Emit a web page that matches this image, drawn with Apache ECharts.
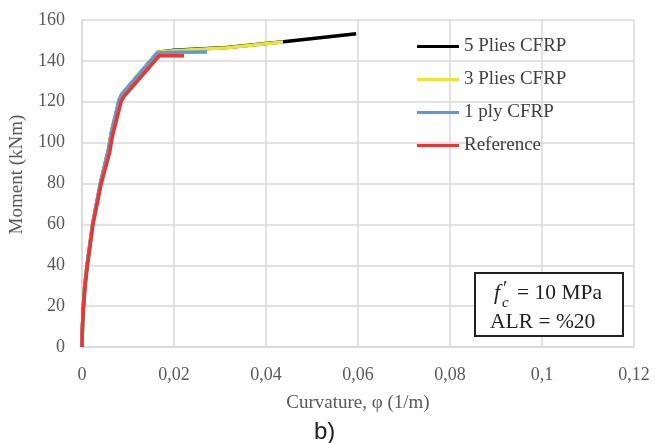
<!DOCTYPE html>
<html>
<head>
<meta charset="UTF-8">
<title>Moment - Curvature</title>
<script src="https://cdn.jsdelivr.net/npm/echarts@6/dist/echarts.min.js"></script>
<style>
 html,body{margin:0;padding:0;background:#fff;}
 #main{width:655px;height:443px;}
</style>
</head>
<body>
<div id="main"></div>
<script type="text/javascript">
// series names (legend order)
var seriesNames = ['5 Plies CFRP', '3 Plies CFRP', '1 ply CFRP', 'Reference'];
// curvature (1/m), moment (kNm)
var plies5 = [[0,0],[0.0001,10],[0.0003,20],[0.0006,30],[0.0011,40],[0.0023,60],[0.0040,80],[0.0058,97],[0.0064,105],[0.0081,121],[0.0087,123.8],[0.0164,144.2],[0.0200,145.2],[0.0315,146.6],[0.0438,149.4],[0.0596,153.3]];
var plies3 = [[0,0],[0.0001,10],[0.0003,20],[0.0006,30],[0.0011,40],[0.0023,60],[0.0040,80],[0.0058,97],[0.0064,105],[0.0081,121],[0.0087,123.8],[0.0164,144.2],[0.0200,145.0],[0.0315,146.4],[0.0437,149.2]];
var ply1 = [[0,0],[0.0001,10],[0.0003,20],[0.0006,30],[0.0011,40],[0.0023,60],[0.0040,80],[0.0058,97],[0.0064,105],[0.0081,121],[0.0087,123.6],[0.0164,143.9],[0.0200,144.2],[0.0272,144.4]];
var reference = [[0,0],[0.0001,10],[0.00035,20],[0.0007,30],[0.0012,40],[0.0024,60],[0.0042,80],[0.0060,95],[0.0066,103],[0.0085,120],[0.0091,122.5],[0.0168,142.5],[0.0222,142.5]];
var seriesColors = ['#000000', '#e8e637', '#5b9bd5', '#ee3333'];

var serif = 'Liberation Serif';
var myChart = echarts.init(document.getElementById('main'));

function lineSeries(i, data) {
    return {
        name: seriesNames[i],
        type: 'line',
        data: data,
        showSymbol: false,
        symbol: 'none',
        lineStyle: {width: 3.5, color: seriesColors[i]},
        itemStyle: {color: seriesColors[i]}
    };
}

var option = {
    animation: false,
    grid: {left: 80, right: 21, top: 20, bottom: 96},
    legend: {
        orient: 'vertical',
        left: 412,
        top: 32,
        itemWidth: 42,
        itemHeight: 3,
        itemGap: 14,
        icon: 'rect',
        data: seriesNames,
        textStyle: {fontFamily: serif, fontSize: 19, color: '#404040'}
    },
    xAxis: {
        type: 'value',
        min: 0,
        max: 0.12,
        interval: 0.02,
        name: 'Curvature, φ (1/m)',
        nameLocation: 'middle',
        nameGap: 47,
        nameTextStyle: {fontFamily: serif, fontSize: 19, color: '#595959'},
        axisLine: {show: true, lineStyle: {color: '#d9d9d9', width: 1.5}},
        axisTick: {show: false},
        axisLabel: {
            fontFamily: serif, fontSize: 18, color: '#595959', margin: 19,
            formatter: function (v) { return String(+v.toFixed(2)).replace('.', ','); }
        },
        splitLine: {show: true, lineStyle: {color: '#d9d9d9', width: 1.5}}
    },
    yAxis: {
        type: 'value',
        min: 0,
        max: 160,
        interval: 20,
        name: 'Moment (kNm)',
        nameLocation: 'middle',
        nameGap: 55,
        nameTextStyle: {fontFamily: serif, fontSize: 19, color: '#595959', padding: [0, 0, 0, 18]},
        axisLine: {show: true, lineStyle: {color: '#d9d9d9', width: 1.5}},
        axisTick: {show: false},
        axisLabel: {fontFamily: serif, fontSize: 18, color: '#595959', margin: 17},
        splitLine: {show: true, lineStyle: {color: '#d9d9d9', width: 1.5}}
    },
    graphic: [
        {type: 'rect', left: 474, top: 272, shape: {width: 148, height: 63},
         style: {fill: '#fff', stroke: '#222', lineWidth: 2}, z: 10},
        {type: 'text', left: 494, top: 282, z: 11,
         style: {text: 'f', font: 'italic 22px "Liberation Serif"', fill: '#222'}},
        {type: 'text', left: 503, top: 280, z: 11,
         style: {text: '′', font: '20px "Liberation Serif"', fill: '#222'}},
        {type: 'text', left: 502, top: 296, z: 11,
         style: {text: 'c', font: 'italic 15px "Liberation Serif"', fill: '#222'}},
        {type: 'text', left: 517, top: 282, z: 11,
         style: {text: '= 10 MPa', font: '21.5px "Liberation Serif"', fill: '#222'}},
        {type: 'text', left: 490, top: 311, z: 11,
         style: {text: 'ALR = %20', font: '21.5px "Liberation Serif"', fill: '#222'}},
        {type: 'text', left: 314, top: 420, z: 11,
         style: {text: 'b)', font: '24px "Liberation Sans"', fill: '#222'}}
    ],
    series: [
        lineSeries(0, plies5),
        lineSeries(1, plies3),
        lineSeries(2, ply1),
        lineSeries(3, reference)
    ]
};
myChart.setOption(option);
</script>
</body>
</html>
